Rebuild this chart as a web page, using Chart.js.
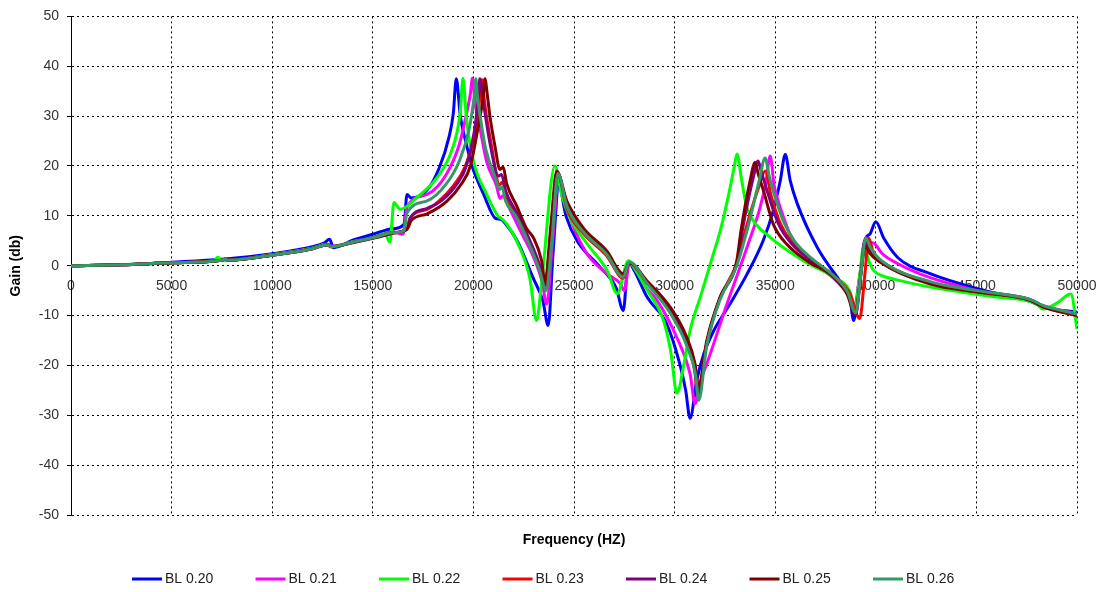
<!DOCTYPE html>
<html><head><meta charset="utf-8">
<script src="https://cdn.jsdelivr.net/npm/chart.js@4.4.0/dist/chart.umd.min.js"></script>
<style>html,body{margin:0;padding:0;background:#fff;}#wrap{width:1103px;height:592px;}</style>
</head><body><div id="wrap"><canvas id="c" width="1103" height="592"></canvas></div>
<script>
const SERIES_LABELS = ['BL 0.20','BL 0.21','BL 0.22','BL 0.23','BL 0.24','BL 0.25','BL 0.26'];
const SERIES_COLORS = ['#0000FF','#FF00FF','#00FF00','#FF0000','#800080','#800000','#339966'];
const X_TICK_STEP = 5000;
const Y_TICK_STEP = 10;

const FREQ_BL020 = [0,2500,5000,7500,10000,12000,12600,12850,13050,14000,15000,16000,16550,16700,16900,17700,18300,18800,19000,19150,19350,19650,19900,20500,21100,21350,21600,22200,22950,23450,23720,23950,24250,24600,25150,26300,27100,27450,27700,28000,28650,29600,30250,30550,30770,31100,31450,31950,32750,33600,34400,34900,35250,35500,35750,36100,37100,38200,38700,38900,39150,39500,39700,40000,40400,41100,42700,45050,47000,47700,48300,50000];
const GAIN_BL020 = [0,0.2,0.7,1.3,2.4,3.8,4.6,5.3,3.6,5.1,6.3,7.4,8.3,14.3,13.6,15.2,19.6,26,30.5,37.5,30,24.4,20.4,14.4,9.5,9.3,8.4,4.8,-2.3,-7,-12,2,16,10,5,-0.3,-4.5,-9,0.8,-1,-6.4,-11.6,-19.6,-25,-30.6,-23,-17.7,-13,-7.7,-1.7,5,11,17,22.3,17,12.4,3.6,-3,-6,-11,-4,5.5,6.3,8.8,5.5,1.6,-1.6,-4.6,-6.5,-7.2,-8.3,-9.3];

const FREQ_BL021 = [0,2500,5000,7500,7650,7800,10000,12000,12750,12950,14000,15000,16000,16500,16700,17700,18650,19300,19650,19850,19950,20100,20320,20650,21150,21320,21450,21850,22400,23000,23400,23650,23900,24250,24600,25550,26600,27300,27500,27750,28600,29100,30100,30770,31020,31300,31600,32600,33600,34250,34550,34750,34950,35250,35900,37050,38200,38650,38900,39200,39500,39700,39950,40300,41100,42700,45050,47700,48300,50000];
const GAIN_BL021 = [0,0.2,0.6,1.1,1.3,1.1,2.2,3.5,4.3,3.9,4.7,5.6,6.8,6.3,11.7,14.3,18.3,24.3,30.3,34.5,37.6,32,27.7,21,16,13.5,14,11,6.5,1.6,-3,-7.7,3,17.6,12,3,-1.5,-3.6,-5,0.4,-4.5,-6.8,-14.3,-21.7,-27.7,-23,-19.7,-7.7,3.7,11.7,17,22,16,11.7,5,0.3,-3.7,-6,-9,-2,5.6,4.8,4.4,2.5,0.4,-2.4,-5,-7,-8,-9.6];

const FREQ_BL022 = [0,2500,5000,7100,7300,7500,10000,12000,12700,12900,14000,15000,15600,15850,16050,16350,17200,18200,18850,19200,19350,19480,19650,20000,20650,21250,21350,21650,22150,22800,23140,23400,24050,24400,24800,25650,26650,27150,27700,28000,28650,29400,29800,30120,30450,30770,31300,31900,32300,32700,32950,33100,33340,33590,33920,34750,36400,37900,38700,38980,39200,39400,39650,39900,40300,41000,42700,46000,48000,48300,49000,49700,50000];
const GAIN_BL022 = [0,0.2,0.6,1.0,1.7,1.0,2.2,3.5,4.3,3.8,4.8,5.6,6.4,4.7,12.7,11.3,13.7,17.7,22.3,27,31,37.6,29.7,21,14.4,9.8,9.6,8.4,5,-2.4,-11,-3,20,14,9.6,4.4,-1,-5.6,1,-0.5,-5,-10.4,-17,-25.6,-20,-13,-6,2,7.5,14.5,19.5,22.4,17,11.7,9,5.7,1,-2.3,-5,-8.3,-2,4,1,-1,-2,-2.8,-4.3,-6.3,-7.7,-8.7,-7.5,-5.7,-12.7];

const FREQ_BL023 = [0,2500,5000,7500,7650,7800,10000,12000,12750,12950,14000,15000,16000,16700,16850,17700,18300,19000,19600,20100,20330,20420,20520,20650,20900,21300,21450,21650,22100,22700,23300,23580,23900,24200,24640,25460,26620,27450,27750,28620,29780,30600,31000,31150,31600,32260,33090,33600,34200,34500,34800,35250,35850,36800,37900,38700,39200,39450,39650,39850,40300,42710,45030,47690,48330,50000];
const GAIN_BL023 = [0,0.2,0.6,1.1,1.3,1.1,2.1,3.4,4.2,3.8,4.7,5.6,6.6,7.3,9.5,11.3,13,16,20,27,34,37.3,34,30,24,16.2,16.8,14,10.5,5.5,-0.5,-5,6,18.5,11.5,6.5,2,-2.5,0.6,-3.5,-9.2,-15.5,-21,-26,-15.5,-6.5,0.5,8.3,16,19,14,8.5,4.6,1.3,-2,-5.5,-10.6,-2,5.5,3,0.8,-3.5,-5.2,-6.9,-8.2,-10];

const FREQ_BL024 = [0,2500,5000,7500,7650,7800,10000,12000,12750,12950,14000,15000,16000,16700,16850,17700,18400,19200,19650,20050,20250,20320,20450,20600,20850,21250,21400,21600,22100,22700,23300,23560,23850,24180,24640,25460,26620,27450,27750,28620,29780,30600,31000,31170,31600,32260,33090,33420,33900,34150,34300,34600,35150,35800,36700,37900,38600,39000,39250,39450,39700,40220,42710,45030,47690,48330,50000];
const GAIN_BL024 = [0,0.2,0.6,1.1,1.3,1.1,2.1,3.4,4.2,3.8,4.7,5.6,6.6,7.3,9.5,11.5,13,16.5,20,27,34,37.5,34,30,24,18,18.3,15,11,6,0,-4,7,18.5,12,7,2.5,-2,0.6,-3.3,-8.8,-15,-20.5,-25.5,-15.5,-6.5,0.5,8.3,17.5,21,19,15,8.5,4.5,1.3,-2,-5.5,-9.8,-2,5,3,1,-3.4,-5.1,-6.8,-8.1,-9.8];

const FREQ_BL025 = [0,2500,5000,7500,7650,7800,10000,12000,12750,12950,14000,15000,16000,16750,16900,17700,18700,19400,19850,20200,20490,20570,20700,20820,21070,21320,21480,21650,22150,22650,23000,23390,23560,23850,24140,24640,25460,26620,27450,27750,28620,29780,30600,31020,31190,31600,32260,33090,33300,33750,34000,34150,34420,34910,35580,36580,37900,38570,38980,39250,39480,39700,40220,42710,45030,47690,48330,50000];
const GAIN_BL025 = [0,0.2,0.6,1.1,1.3,1.1,2.1,3.4,4.2,3.8,4.6,5.5,6.5,7.6,9,10.4,13,16.4,20,27,34,37.5,34,30,24,19.3,19.8,16.5,12,7.4,5.5,1,-3.3,8,19,13,7.6,3,-1.6,0.6,-3,-8.3,-14.3,-19.7,-24.3,-15,-6.3,1,7,17,20.7,18.5,15,8.3,4.3,1,-2.3,-5.7,-9.7,-2,4,2.5,0.7,-3.7,-5.3,-7,-8.3,-10];

const FREQ_BL026 = [0,2500,5000,7500,7650,7800,10000,12000,12750,12950,14000,15000,16000,16550,16700,17700,18650,19300,19800,20050,20120,20200,20350,20600,21100,21300,21420,21600,22100,22700,23300,23600,23900,24200,24640,25460,26620,27450,27750,28620,29780,30600,31050,31200,31600,32260,33090,33680,34200,34500,34700,34900,35400,35950,36800,37900,38600,39000,39250,39500,39750,40220,42710,45030,47690,48330,50000];
const GAIN_BL026 = [0,0.2,0.6,1.1,1.3,1.1,2.1,3.4,4.2,3.8,4.7,5.6,6.6,7,10.6,13,16.4,21,27.6,34.4,37.5,34,29.6,23.6,17.5,15.3,15.8,13,10,5,-1,-5,5,18.5,12,6.8,2.3,-2.3,0.8,-3.5,-9.5,-16,-22,-27,-16,-6.8,0,8.3,17,21.6,18,15,9,5,1.5,-2,-5.3,-9.5,-2,5.5,3.5,1.2,-3.2,-5,-6.8,-8,-9.7];

const FREQS = [FREQ_BL020,FREQ_BL021,FREQ_BL022,FREQ_BL023,FREQ_BL024,FREQ_BL025,FREQ_BL026];
const GAINS = [GAIN_BL020,GAIN_BL021,GAIN_BL022,GAIN_BL023,GAIN_BL024,GAIN_BL025,GAIN_BL026];

const FONT = '"Liberation Sans", Arial, sans-serif';

const datasets = SERIES_LABELS.map((label, i) => ({
  label,
  data: FREQS[i].map((f, j) => ({x: f, y: GAINS[i][j]})),
  borderColor: SERIES_COLORS[i],
  backgroundColor: SERIES_COLORS[i],
  borderWidth: 3,
  pointRadius: 0,
  fill: false,
  cubicInterpolationMode: 'monotone',
  order: SERIES_LABELS.length - 1 - i
}));

const bottomLegend = {
  id: 'bottomLegend',
  afterDraw(chart) {
    const ctx = chart.ctx;
    ctx.save();
    ctx.font = '14px ' + FONT;
    ctx.textBaseline = 'middle';
    ctx.textAlign = 'left';
    let x = 132;
    const y = 579;
    chart.data.datasets.forEach(ds => {
      ctx.strokeStyle = ds.borderColor;
      ctx.lineWidth = 3;
      ctx.beginPath();
      ctx.moveTo(x, y);
      ctx.lineTo(x + 30, y);
      ctx.stroke();
      ctx.fillStyle = '#222';
      ctx.fillText(ds.label, x + 33, y);
      x += 123.5;
    });
    ctx.restore();
  }
};

new Chart(document.getElementById('c'), {
  type: 'line',
  data: { datasets },
  plugins: [bottomLegend],
  options: {
    responsive: false,
    animation: false,
    devicePixelRatio: 1,
    layout: { padding: { left: 0, right: 26, top: 15, bottom: 37 } },
    plugins: { legend: { display: false }, tooltip: { enabled: false } },
    scales: {
      x: {
        type: 'linear',
        position: { y: 0 },
        min: 0, max: 50000,
        ticks: { stepSize: X_TICK_STEP, autoSkip: false, maxRotation: 0, color: '#333', font: { family: FONT, size: 14 }, padding: 12, callback: v => String(v) },
        grid: { color: '#000', lineWidth: 1, drawTicks: false },
        border: { display: false, dash: [2, 3] },
        afterFit(s) { s.paddingLeft = 0; s.paddingRight = 0; }
      },
      x2: {
        type: 'linear',
        position: 'bottom',
        min: 0, max: 50000,
        display: true,
        ticks: { display: false },
        grid: { display: false, drawTicks: false },
        border: { display: false },
        title: { display: true, text: 'Frequency (HZ)', color: '#000', font: { family: FONT, size: 14, weight: 'bold' }, padding: { top: 0, bottom: 6 } },
        afterFit(s) { s.height = 40; s.paddingLeft = 0; s.paddingRight = 0; }
      },
      y: {
        min: -50, max: 50,
        ticks: { stepSize: Y_TICK_STEP, color: '#333', font: { family: FONT, size: 14 }, padding: 8, callback: v => String(v) },
        grid: { color: '#000', lineWidth: 1, drawTicks: true, tickLength: 4, tickColor: '#000' },
        border: { display: true, color: '#000', width: 1, dash: [2, 3] },
        title: { display: true, text: 'Gain (db)', color: '#000', font: { family: FONT, size: 14, weight: 'bold' }, padding: { top: 8, bottom: 0 } },
        afterFit(s) { s.width = 71; }
      }
    }
  }
});
</script>
</body></html>
